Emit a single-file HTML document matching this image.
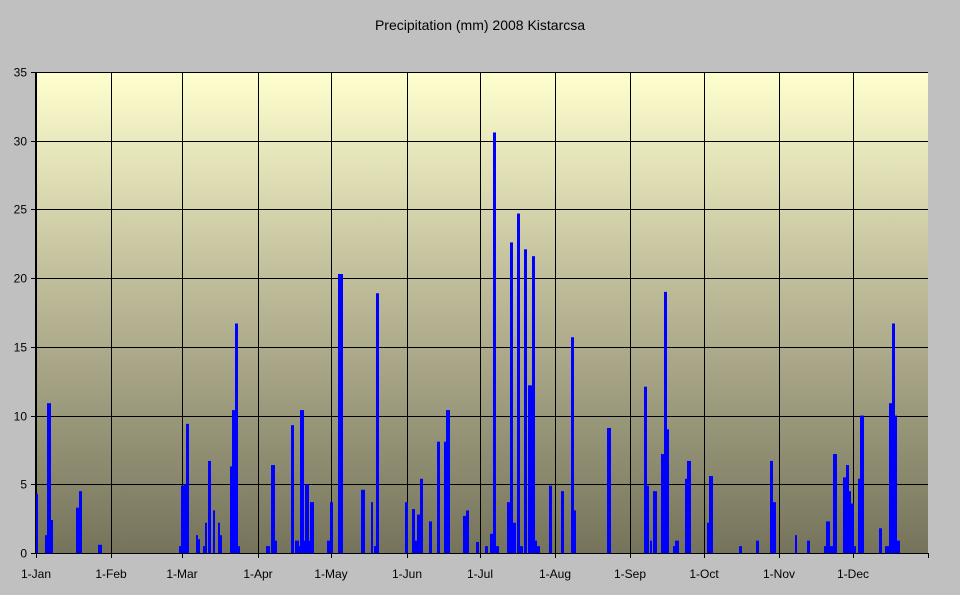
<!DOCTYPE html>
<html><head><meta charset="utf-8"><style>
html,body{margin:0;padding:0;background:#c0c0c0;}
svg{display:block;font-family:"Liberation Sans",Arial,sans-serif;}
</style></head><body>
<svg id="s" width="960" height="595" viewBox="0 0 960 595">
<defs><linearGradient id="g" x1="0" y1="0" x2="0" y2="1">
<stop offset="0" stop-color="#ffffcf"/><stop offset="0.45" stop-color="#bdbb98"/><stop offset="1" stop-color="#75735b"/></linearGradient></defs>
<rect x="0" y="0" width="960" height="595" fill="#c0c0c0"/>
<text x="480" y="30" font-size="14" text-anchor="middle" fill="#000">Precipitation (mm) 2008 Kistarcsa</text>
<rect x="36" y="72" width="892" height="481" fill="url(#g)"/>
<g id="grid" stroke="#000" stroke-width="1"></g>
<g id="bars" fill="#0000ff"></g>
<g id="lab" font-size="12" fill="#000"></g>
</svg>
<script>
var ns="http://www.w3.org/2000/svg";
function el(p,t,a,txt){var e=document.createElementNS(ns,t);for(var k in a)e.setAttribute(k,a[k]);if(txt!=null)e.textContent=txt;document.getElementById(p).appendChild(e);}
function Y(v){return 553-v*13.743;}
for(var i=0;i<=7;i++){var y=Math.round(Y(i*5))+0.5;el('grid','line',{x1:36,x2:928,y1:y,y2:y});el('grid','line',{x1:31,x2:36,y1:y,y2:y});
el('lab','text',{x:27,y:y+4,'text-anchor':'end'},String(i*5));}
var mx=[36,111,182,258,331,407,480,555,630,704,779,853],mn=['1-Jan','1-Feb','1-Mar','1-Apr','1-May','1-Jun','1-Jul','1-Aug','1-Sep','1-Oct','1-Nov','1-Dec'];
for(var i=0;i<mx.length;i++){var x=mx[i]+0.5;el('grid','line',{x1:x,x2:x,y1:72,y2:558});el('lab','text',{x:mx[i],y:578,'text-anchor':'middle'},mn[i]);}
el('grid','line',{x1:928.5,x2:928.5,y1:553,y2:558});
el('grid','line',{x1:35.5,x2:35.5,y1:72,y2:553});
var b=[[36,38,4.3],[45,47,1.3],[47,51,10.9],[51,53,2.4],[76,79,3.3],[79,82,4.5],[98,102,0.6],
[179,181,0.5],[181,184,4.9],[184,186,5],[186,189,9.4],[196,198,1.3],[198,200,1.0],[203,205,0.5],[205,207,2.2],[208,211,6.7],[213,215,3.1],[218,220,2.2],[220,222,1.3],
[230,232,6.3],[232,235,10.4],[235,238,16.7],[238,240,0.5],
[266,268,0.5],[268,270,0.5],[271,275,6.4],[275,277,0.9],[291,294,9.3],[295,299,0.9],[299,300,0.5],[300,304,10.4],[304,305,0.9],[305,309,5.0],[308,310,0.9],[310,314,3.7],
[327,330,0.9],[330,333,3.7],[338,343,20.3],[361,365,4.6],[371,373,3.7],[374,376,0.5],[376,379,18.9],
[405,408,3.7],[412,415,3.2],[415,417,0.9],[417,420,2.8],[420,423,5.4],[429,432,2.3],[437,440,8.1],[444,446,8.1],[446,450,10.4],[463,466,2.7],[466,469,3.1],
[476,479,0.8],[485,488,0.5],[490,493,1.4],[493,496,30.6],[496,499,0.5],[507,510,3.7],[510,513,22.6],[513,516,2.2],[517,520,24.7],[520,523,0.5],
[524,527,22.1],[528,532,12.2],[532,535,21.6],[535,537,0.9],[537,540,0.5],[549,552,4.9],[561,564,4.5],[571,574,15.7],[574,576,3.1],[607,611,9.1],
[644,647,12.1],[647,649,4.9],[650,652,0.9],[653,657,4.5],[661,664,7.2],[664,667,19.0],[667,669,9.0],[673,675,0.5],[675,679,0.9],[685,688,5.4],[687,691,6.7],
[707,709,2.2],[709,713,5.6],[739,742,0.5],[756,759,0.9],[770,773,6.7],[773,776,3.7],[795,797,1.3],[807,810,0.9],
[824,826,0.5],[826,830,2.3],[830,833,0.5],[833,837,7.2],[843,846,5.5],[846,849,6.4],[849,851,4.5],[851,854,3.6],[854,856,0.5],[858,861,5.4],[860,864,10.0],
[879,882,1.8],[885,889,0.5],[889,893,10.9],[892,895,16.7],[895,897,10.0],[897,900,0.9]];
b.forEach(function(r){var y=Y(r[2]);el('bars','rect',{x:r[0],y:y,width:r[1]-r[0],height:553-y});});
el('grid','line',{x1:36,x2:928,y1:553.5,y2:553.5});
</script>
</body></html>
